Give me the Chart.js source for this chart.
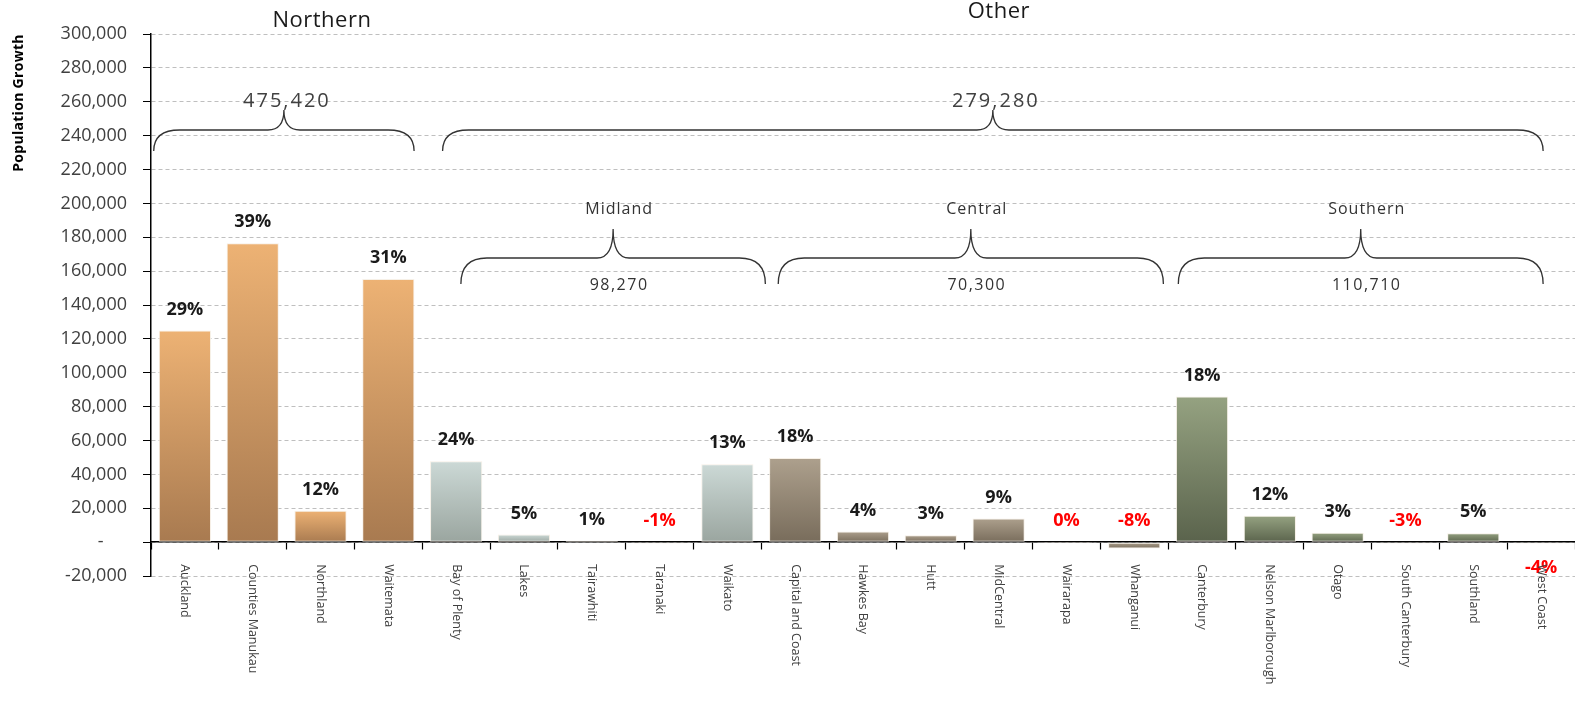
<!DOCTYPE html>
<html>
<head>
<meta charset="utf-8">
<script src="https://cdn.jsdelivr.net/npm/chart.js@4.4.1/dist/chart.umd.min.js"></script>
<style>
  html, body { margin: 0; padding: 0; background: #ffffff; }
  #wrap { width: 1575px; height: 717px; position: relative; }
</style>
</head>
<body>
<div id="wrap"><canvas id="c"></canvas></div>
<script>
// ---- Data ----
const categories = ['Auckland','Counties Manukau','Northland','Waitemata','Bay of Plenty','Lakes','Tairawhiti','Taranaki','Waikato','Capital and Coast','Hawkes Bay','Hutt','MidCentral','Wairarapa','Whanganui','Canterbury','Nelson Marlborough','Otago','South Canterbury','Southland','West Coast'];
const growth = [125000,176500,18500,155400,47800,4500,800,-800,46000,49700,6300,4000,14000,-100,-3800,86000,15500,5500,-800,5300,-800];
const pctLabels = ['29%','39%','12%','31%','24%','5%','1%','-1%','13%','18%','4%','3%','9%','0%','-8%','18%','12%','3%','-3%','5%','-4%'];
const region = ['N','N','N','N','M','M','M','M','M','C','C','C','C','C','C','S','S','S','S','S','S'];
const yTicks = [-20000,0,20000,40000,60000,80000,100000,120000,140000,160000,180000,200000,220000,240000,260000,280000,300000];
const yTitle = 'Population Growth';
// group annotations: [name, total, first index, last index]
const topGroups = [['Northern','475,420',0,3],['Other','279,280',4,20]];
const subGroups = [['Midland','98,270',4,8],['Central','70,300',9,14],['Southern','110,710',15,20]];

// ---- Styles ----
const regionColors = {
  N: ['#EDB274', '#A87A50'],
  M: ['#CCD9D6', '#9AA59F'],
  C: ['#ADA08D', '#786C5B'],
  S: ['#95A281', '#5A634C']
};
const FONT = '"Open Sans", "Liberation Sans", sans-serif';

function barGradient(ctx) {
  const i = ctx.dataIndex;
  const cols = regionColors[region[i]] || regionColors.N;
  const chart = ctx.chart;
  const ys = chart.scales && chart.scales.y;
  if (!ys || !chart.chartArea || ctx.type !== 'data') return cols[0];
  const v = growth[i];
  const p0 = ys.getPixelForValue(0), p1 = ys.getPixelForValue(v);
  const a = Math.min(p0, p1), b = Math.max(p0, p1) + 0.5;
  const g = chart.ctx.createLinearGradient(0, a, 0, b);
  g.addColorStop(0, cols[0]);
  g.addColorStop(1, cols[1]);
  return g;
}

function drawBrace(c, x1, x2, yEnd, yMid, yTip) {
  const xc = (x1 + x2) / 2;
  const r = 26, rc = 16;
  c.beginPath();
  c.moveTo(x1, yEnd);
  c.quadraticCurveTo(x1, yMid, x1 + r, yMid);
  c.lineTo(xc - rc, yMid);
  c.quadraticCurveTo(xc, yMid, xc, yTip);
  c.quadraticCurveTo(xc, yMid, xc + rc, yMid);
  c.lineTo(x2 - r, yMid);
  c.quadraticCurveTo(x2, yMid, x2, yEnd);
  c.stroke();
}

const annotPlugin = {
  id: 'annot',
  afterDatasetsDraw(chart) {
    const c = chart.ctx;
    const xs = chart.scales.x, ys = chart.scales.y;
    const w = xs.getPixelForValue(1) - xs.getPixelForValue(0);
    const zero = ys.getPixelForValue(0);
    c.save();
    // y axis title
    c.save();
    c.translate(19, 103);
    c.rotate(-Math.PI / 2);
    c.textAlign = 'center';
    c.textBaseline = 'middle';
    c.font = 'bold 14px ' + FONT;
    c.letterSpacing = '0.3px';
    c.fillStyle = '#000000';
    c.fillText(yTitle, 0, 0);
    c.restore();
    // percentage labels
    c.textAlign = 'center';
    c.textBaseline = 'middle';
    c.font = 'bold 18px ' + FONT;
    pctLabels.forEach((t, i) => {
      const x = xs.getPixelForValue(i);
      const neg = t.startsWith('-') || t === '0%';
      let y = ys.getPixelForValue(Math.max(growth[i], 0)) - 21;
      if (i === categories.length - 1) y = zero + 26;
      c.fillStyle = neg ? '#FF0000' : '#1A1A1A';
      c.fillText(t, x, y);
    });
    // category labels, rotated to read top-to-bottom
    c.font = '12.5px ' + FONT;
    c.fillStyle = '#404040';
    c.textAlign = 'left';
    c.textBaseline = 'middle';
    categories.forEach((t, i) => {
      const x = xs.getPixelForValue(i);
      c.save();
      c.translate(x, zero + 22);
      c.rotate(Math.PI / 2);
      c.fillText(t, 0, 0);
      c.restore();
    });
    // braces
    c.strokeStyle = '#333333';
    c.lineWidth = 1.3;
    const topSpans = [[-0.46, 0.38], [-0.2, 0.03]];
    topGroups.forEach((g, k) => {
      const x1 = xs.getPixelForValue(g[2]) + topSpans[k][0] * w;
      const x2 = xs.getPixelForValue(g[3]) + topSpans[k][1] * w;
      drawBrace(c, x1, x2, 151, 130, 110);
      const xc = (x1 + x2) / 2;
      c.fillStyle = '#404040';
      c.textAlign = 'center';
      c.textBaseline = 'middle';
      c.font = '20px ' + FONT;
      c.letterSpacing = '2px';
      c.fillText(g[1], xc + 3, 101);
      c.letterSpacing = '0.5px';
      c.font = '22px ' + FONT;
      c.fillStyle = '#1A1A1A';
      c.fillText(g[0], k === 0 ? xc + 38 : xc + 6, k === 0 ? 21 : 12);
    });
    const subSpans = [[0.07, 0.56], [-0.25, 0.43], [-0.35, 0.03]];
    subGroups.forEach((g, k) => {
      const x1 = xs.getPixelForValue(g[2]) + subSpans[k][0] * w;
      const x2 = xs.getPixelForValue(g[3]) + subSpans[k][1] * w;
      drawBrace(c, x1, x2, 284, 258, 229);
      const xc = (x1 + x2) / 2;
      c.fillStyle = '#333333';
      c.textAlign = 'center';
      c.textBaseline = 'middle';
      c.font = '16px ' + FONT;
      c.letterSpacing = '1px';
      c.fillText(g[0], xc + 6, 209);
      c.letterSpacing = '1.5px';
      c.fillText(g[1], xc + 6, 285);
    });
    c.letterSpacing = '0px';
    c.restore();
  }
};

new Chart(document.getElementById('c'), {
  type: 'bar',
  data: {
    labels: categories,
    datasets: [{
      data: growth,
      backgroundColor: barGradient,
      borderColor: 'rgba(245,238,228,0.9)',
      borderWidth: 1,
      borderSkipped: false,
      barPercentage: 0.77,
      categoryPercentage: 1.0
    }]
  },
  options: {
    responsive: true,
    maintainAspectRatio: false,
    animation: false,
    layout: { padding: { top: 34, right: 0, bottom: 141, left: 0 } },
    plugins: { legend: { display: false }, tooltip: { enabled: false } },
    scales: {
      x: {
        position: { y: 0 },
        offset: true,
        ticks: { display: false },
        grid: { display: true, offset: true, drawOnChartArea: false, drawTicks: true, tickLength: 7, tickColor: '#000000', tickWidth: 1.2 },
        border: { display: true, color: '#000000', width: 1.5 }
      },
      y: {
        min: -20000,
        max: 300000,
        afterBuildTicks(scale) { scale.ticks = yTicks.map(v => ({ value: v })); },
        afterFit(scale) { scale.width = 151; },
        ticks: {
          padding: 16,
          color: '#404040',
          font: { family: FONT, size: 18 },
          callback: (v) => v === 0 ? '-     ' : v.toLocaleString('en-US')
        },
        grid: {
          color: '#BFBFBF',
          tickBorderDash: [],
          tickColor: '#000000',
          tickLength: 8,
          lineWidth: 1
        },
        border: { display: true, color: '#000000', width: 1.5, dash: [4, 3] },
        title: { display: false }
      }
    }
  },
  plugins: [annotPlugin]
});
</script>
</body>
</html>
